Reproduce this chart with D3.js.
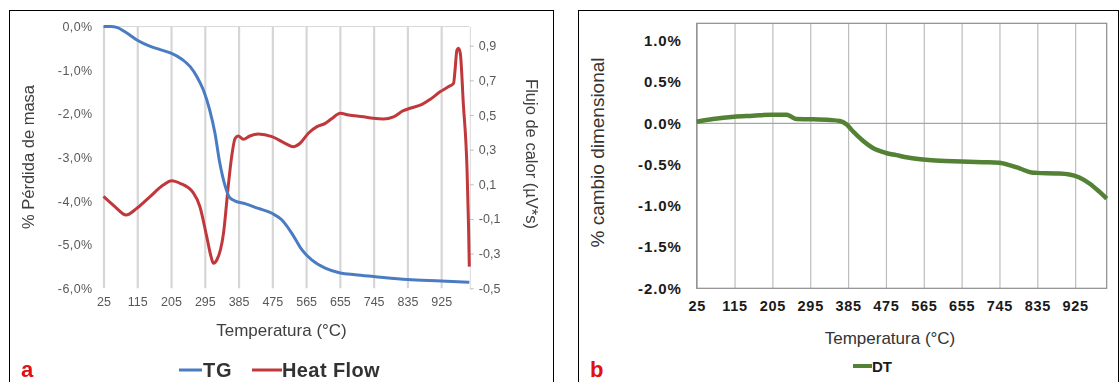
<!DOCTYPE html>
<html>
<head>
<meta charset="utf-8">
<script src="https://cdn.jsdelivr.net/npm/d3@7/dist/d3.min.js"></script>
<style>
  html, body { margin: 0; padding: 0; background: #fff; }
  svg { display: block; font-family: "Liberation Sans", Arial, sans-serif; }
</style>
</head>
<body>
<script>
// Temperature ticks shared by both panels (°C)
const tempTicks = [25, 115, 205, 295, 385, 475, 565, 655, 745, 835, 925];

// Panel a: thermogravimetry (TG, % mass loss)
const tgTemp = [25, 45, 60, 87, 114, 140, 176, 205, 234, 256, 274, 291, 308, 322, 335, 348, 361, 376, 402, 438, 474, 500, 527, 554, 580, 616, 656, 696, 745, 835, 925, 1000];
const tgMass = [0, 0, -0.02, -0.15, -0.31, -0.42, -0.53, -0.61, -0.75, -0.92, -1.15, -1.45, -1.91, -2.44, -3.13, -3.62, -3.92, -4.0, -4.06, -4.17, -4.28, -4.43, -4.74, -5.12, -5.35, -5.54, -5.65, -5.69, -5.73, -5.8, -5.83, -5.86];

// Panel a: heat flow (µV*s)
const hfTemp = [25, 56, 85, 114, 149, 184, 207, 229, 264, 282, 300, 312, 318, 327, 345, 358, 366, 376, 384, 398, 415, 438, 474, 509, 531, 549, 571, 594, 616, 634, 656, 678, 718, 744, 771, 798, 824, 842, 874, 896, 922, 944, 958, 962, 967, 971, 976, 984, 994, 998, 1000];
const hfFlow = [0.03, -0.03, -0.077, -0.038, 0.029, 0.096, 0.121, 0.106, 0.052, -0.029, -0.2, -0.32, -0.356, -0.337, -0.18, 0.1, 0.25, 0.366, 0.379, 0.36, 0.379, 0.39, 0.375, 0.337, 0.317, 0.337, 0.395, 0.433, 0.452, 0.48, 0.51, 0.5, 0.49, 0.481, 0.477, 0.49, 0.525, 0.539, 0.562, 0.591, 0.634, 0.663, 0.683, 0.76, 0.875, 0.885, 0.856, 0.568, 0.183, -0.144, -0.375];

const massTicks = [0, -1, -2, -3, -4, -5, -6];
const flowTicks = [0.9, 0.7, 0.5, 0.3, 0.1, -0.1, -0.3, -0.5];

// Panel b: dilatometry (DT, % dimensional change)
const dtTemp = [25, 64, 114, 159, 203, 239, 247, 262, 294, 342, 365, 381, 397, 421, 444, 475, 500, 527, 563, 603, 654, 706, 744, 769, 793, 821, 834, 880, 911, 935, 959, 983, 1000];
const dtChange = [0.019, 0.052, 0.08, 0.092, 0.105, 0.105, 0.089, 0.052, 0.049, 0.04, 0.028, -0.012, -0.1, -0.215, -0.3, -0.36, -0.386, -0.414, -0.438, -0.455, -0.462, -0.471, -0.479, -0.507, -0.547, -0.596, -0.601, -0.608, -0.62, -0.657, -0.73, -0.832, -0.912];
const dtTicks = [1.0, 0.5, 0.0, -0.5, -1.0, -1.5, -2.0];

const svg = d3.select("body").append("svg")
  .attr("width", 1120).attr("height", 382);

const defs = svg.append("defs");
defs.append("filter").attr("id", "soft")
  .append("feGaussianBlur").attr("stdDeviation", 0.45);

// Frames around each panel
svg.append("rect").attr("x", 9.5).attr("y", 10.5).attr("width", 544).attr("height", 400)
  .attr("fill", "none").attr("stroke", "#000").attr("stroke-width", 1);
svg.append("rect").attr("x", 578.5).attr("y", 10.5).attr("width", 540).attr("height", 400)
  .attr("fill", "none").attr("stroke", "#000").attr("stroke-width", 1);

// ---------------- Panel a ----------------
const A = { left: 103.5, right: 469.3, top: 26.5, bottom: 288.3 };
const xA = d3.scaleLinear().domain([25, 1000]).range([A.left, A.right]);
const yMass = d3.scaleLinear().domain([-6, 0]).range([A.bottom, A.top]);
const yFlow = d3.scaleLinear().domain([-0.5, 1.011]).range([A.bottom, A.top]);

const gA = svg.append("g").attr("filter", "url(#soft)");

// top border of plot area
gA.append("line").attr("x1", A.left).attr("x2", A.right).attr("y1", A.top).attr("y2", A.top)
  .attr("stroke", "#d9d9d9").attr("stroke-width", 1.2);

const commaDec = (v, n) => v.toFixed(n).replace(".", ",");

// bottom axis with vertical gridlines
const axA = gA.append("g").attr("transform", `translate(0,${A.bottom})`)
  .call(d3.axisBottom(xA).tickValues(tempTicks).tickFormat(d3.format("d"))
    .tickSize(-(A.bottom - A.top)).tickSizeOuter(0).tickPadding(9));
axA.select(".domain").remove();
axA.selectAll(".tick line").attr("stroke", "#d6d6d6").attr("stroke-width", 2.2);
axA.selectAll(".tick text").attr("fill", "#595959").style("font-size", "12.5px");

// left axis (% mass)
const axL = gA.append("g").attr("transform", `translate(${A.left},0)`)
  .call(d3.axisLeft(yMass).tickValues(massTicks).tickFormat(v => commaDec(v, 1) + "%")
    .tickSize(0).tickPadding(11));
axL.select(".domain").remove();
axL.selectAll(".tick text").attr("fill", "#595959").style("font-size", "12.5px")
  .style("letter-spacing", "0.4px");

// right axis (heat flow)
const axR = gA.append("g").attr("transform", `translate(${A.right + 0.5},0)`)
  .call(d3.axisRight(yFlow).tickValues(flowTicks).tickFormat(v => commaDec(v, 1))
    .tickSize(4).tickSizeOuter(0).tickPadding(5));
axR.select(".domain").attr("stroke", "#d9d9d9");
axR.selectAll(".tick line").attr("stroke", "#bfbfbf");
axR.selectAll(".tick text").attr("fill", "#595959").style("font-size", "12.5px");

// curves
const lineTG = d3.line().x((d, i) => xA(tgTemp[i])).y(d => yMass(d)).curve(d3.curveMonotoneX);
const lineHF = d3.line().x((d, i) => xA(hfTemp[i])).y(d => yFlow(d)).curve(d3.curveMonotoneX);

gA.append("path").attr("d", lineHF(hfFlow)).attr("fill", "none")
  .attr("stroke", "#c0393b").attr("stroke-width", 3).attr("stroke-linejoin", "round");
gA.append("path").attr("d", lineTG(tgMass)).attr("fill", "none")
  .attr("stroke", "#4a7cc2").attr("stroke-width", 3).attr("stroke-linejoin", "round");

// axis titles
gA.append("text").attr("transform", "translate(34,157) rotate(-90)")
  .attr("text-anchor", "middle").attr("fill", "#404040").style("font-size", "16.5px")
  .text("% Pérdida de masa");
gA.append("text").attr("transform", "translate(526,154) rotate(90)")
  .attr("text-anchor", "middle").attr("fill", "#404040").style("font-size", "16.5px")
  .text("Flujo de calor (µV*s)");
gA.append("text").attr("x", 281.5).attr("y", 336)
  .attr("text-anchor", "middle").attr("fill", "#404040").style("font-size", "17px")
  .text("Temperatura (°C)");

// legend
const legA = gA.append("g");
legA.append("line").attr("x1", 179).attr("x2", 202).attr("y1", 370).attr("y2", 370)
  .attr("stroke", "#4a7cc2").attr("stroke-width", 3);
legA.append("text").attr("x", 203).attr("y", 377).attr("font-weight", "bold")
  .attr("fill", "#333").style("font-size", "20px").style("letter-spacing", "0.8px").text("TG");
legA.append("line").attr("x1", 252).attr("x2", 282).attr("y1", 370).attr("y2", 370)
  .attr("stroke", "#c0393b").attr("stroke-width", 3);
legA.append("text").attr("x", 282).attr("y", 377).attr("font-weight", "bold")
  .attr("fill", "#333").style("font-size", "20px").style("letter-spacing", "0.4px").text("Heat Flow");

svg.append("text").attr("x", 21).attr("y", 377).attr("font-weight", "bold")
  .attr("fill", "#e01010").style("font-family", "'Liberation Sans Narrow', 'Arial Narrow', sans-serif")
  .style("font-size", "22px").text("a");

// ---------------- Panel b ----------------
const B = { left: 696.7, right: 1106.7, top: 23.3, bottom: 288.3 };
const xB = d3.scaleLinear().domain([25, 1000]).range([B.left, B.right]);
const yB = d3.scaleLinear().domain([-2, 1.212]).range([B.bottom, B.top]);

const gB = svg.append("g");

const axB = gB.append("g").attr("transform", `translate(0,${B.bottom})`)
  .call(d3.axisBottom(xB).tickValues(tempTicks).tickFormat(d3.format("d"))
    .tickSize(-(B.bottom - B.top)).tickSizeOuter(0).tickPadding(12));
axB.select(".domain").remove();
axB.selectAll(".tick line").attr("stroke", "#bdbdbd").attr("stroke-width", 1.2);
axB.selectAll(".tick text").attr("fill", "#1a1a1a").attr("font-weight", "bold")
  .style("font-size", "14.5px").style("letter-spacing", "0.7px");

// zero line
gB.append("line").attr("x1", B.left).attr("x2", B.right).attr("y1", yB(0)).attr("y2", yB(0))
  .attr("stroke", "#a6a6a6").attr("stroke-width", 1.2);

// plot border
gB.append("rect").attr("x", B.left).attr("y", B.top)
  .attr("width", B.right - B.left).attr("height", B.bottom - B.top)
  .attr("fill", "none").attr("stroke", "#8c8c8c").attr("stroke-width", 1.2);

const axBL = gB.append("g").attr("transform", `translate(${B.left},0)`)
  .call(d3.axisLeft(yB).tickValues(dtTicks).tickFormat(v => v.toFixed(1) + "%")
    .tickSize(0).tickPadding(15));
axBL.select(".domain").remove();
axBL.selectAll(".tick text").attr("fill", "#1a1a1a").attr("font-weight", "bold")
  .style("font-size", "15px").style("letter-spacing", "0.9px");

const lineDT = d3.line().x((d, i) => xB(dtTemp[i])).y(d => yB(d)).curve(d3.curveMonotoneX);
gB.append("path").attr("d", lineDT(dtChange)).attr("fill", "none")
  .attr("stroke", "#548235").attr("stroke-width", 4.5).attr("stroke-linejoin", "round");

gB.append("text").attr("transform", "translate(604,152.5) rotate(-90)")
  .attr("text-anchor", "middle").attr("fill", "#333").style("font-size", "19px")
  .text("% cambio dimensional");
gB.append("text").attr("x", 890).attr("y", 344)
  .attr("text-anchor", "middle").attr("fill", "#333").style("font-size", "17px")
  .text("Temperatura (°C)");

gB.append("line").attr("x1", 853).attr("x2", 872).attr("y1", 366).attr("y2", 366)
  .attr("stroke", "#548235").attr("stroke-width", 4);
gB.append("text").attr("x", 872).attr("y", 372).attr("font-weight", "bold")
  .attr("fill", "#1a1a1a").style("font-size", "15px").text("DT");

svg.append("text").attr("x", 590).attr("y", 377).attr("font-weight", "bold")
  .attr("fill", "#e01010").style("font-family", "'Liberation Sans Narrow', 'Arial Narrow', sans-serif")
  .style("font-size", "22px").text("b");
</script>
</body>
</html>
